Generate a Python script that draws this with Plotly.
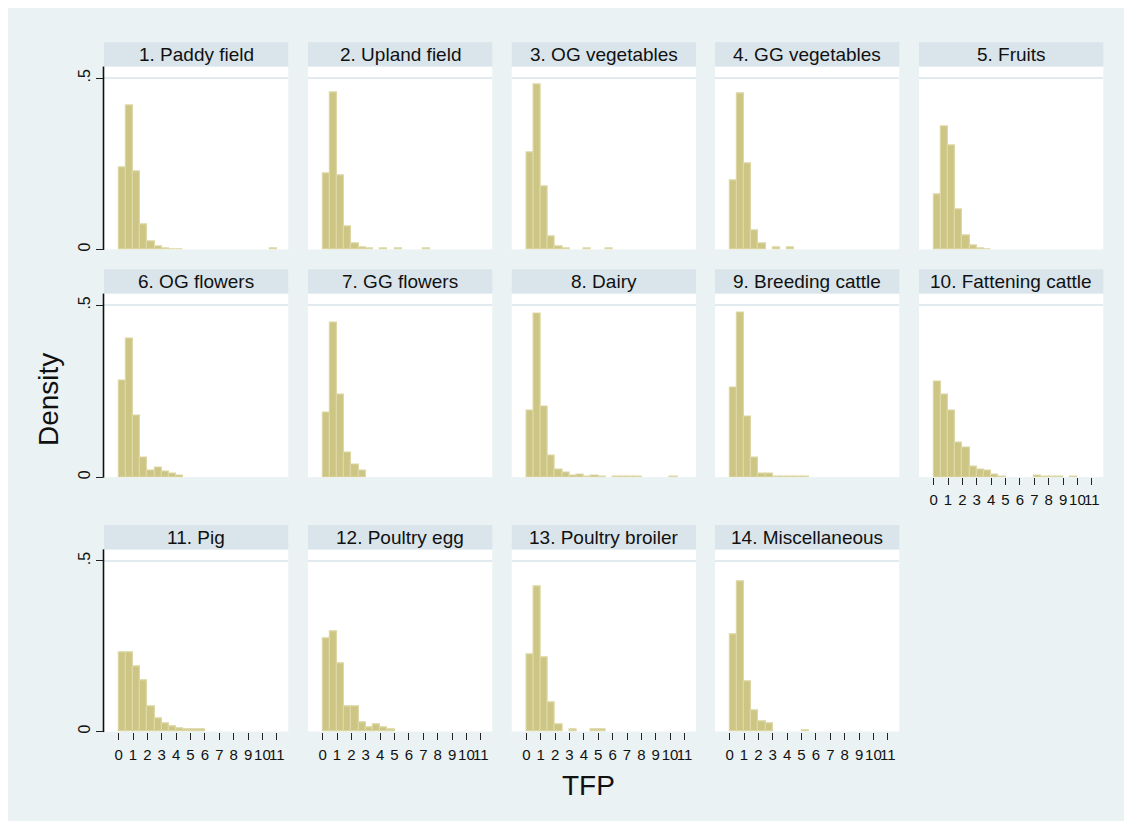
import plotly.graph_objects as go

# ---------------- data ----------------
panel_titles = ["1. Paddy field", "2. Upland field", "3. OG vegetables", "4. GG vegetables", "5. Fruits",
                "6. OG flowers", "7. GG flowers", "8. Dairy", "9. Breeding cattle", "10. Fattening cattle",
                "11. Pig", "12. Poultry egg", "13. Poultry broiler", "14. Miscellaneous"]

# histogram bin centres (bin width 0.5)
bin_centers = [0.25, 0.75, 1.25, 1.75, 2.25, 2.75, 3.25, 3.75, 4.25, 4.75, 5.25,
               5.75, 6.25, 6.75, 7.25, 7.75, 8.25, 8.75, 9.25, 9.75, 10.25, 10.75]

paddy = [0.240, 0.419, 0.227, 0.072, 0.024, 0.009, 0.003, 0.001, 0.001, 0, 0, 0, 0, 0, 0, 0, 0, 0, 0, 0, 0, 0.002]
upland = [0.223, 0.459, 0.215, 0.066, 0.017, 0.005, 0.002, 0, 0.002, 0, 0.002, 0, 0, 0, 0.002, 0, 0, 0, 0, 0, 0, 0]
og_veg = [0.282, 0.480, 0.183, 0.038, 0.007, 0.003, 0, 0, 0.002, 0, 0, 0.002, 0, 0, 0, 0, 0, 0, 0, 0, 0, 0]
gg_veg = [0.200, 0.456, 0.252, 0.054, 0.017, 0, 0.006, 0, 0.006, 0, 0, 0, 0, 0, 0, 0, 0, 0, 0, 0, 0, 0]
fruits = [0.160, 0.358, 0.303, 0.116, 0.041, 0.012, 0.003, 0.001, 0, 0, 0, 0, 0, 0, 0, 0, 0, 0, 0, 0, 0, 0]
og_flowers = [0.281, 0.403, 0.180, 0.058, 0.020, 0.027, 0.015, 0.010, 0.004, 0, 0, 0, 0, 0, 0, 0, 0, 0, 0, 0, 0, 0]
gg_flowers = [0.187, 0.450, 0.240, 0.071, 0.036, 0.019, 0, 0, 0, 0, 0, 0, 0, 0, 0, 0, 0, 0, 0, 0, 0, 0]
dairy = [0.193, 0.477, 0.205, 0.063, 0.021, 0.013, 0.005, 0.008, 0.002, 0.004, 0.002, 0, 0.002, 0.002, 0.002, 0.002, 0, 0, 0, 0, 0.002, 0]
breeding = [0.260, 0.479, 0.176, 0.056, 0.010, 0.010, 0.002, 0.002, 0.002, 0.002, 0.002, 0, 0, 0, 0, 0, 0, 0, 0, 0, 0, 0]
fattening = [0.278, 0.240, 0.195, 0.101, 0.085, 0.032, 0.022, 0.020, 0.007, 0.002, 0, 0, 0, 0, 0.004, 0.0015, 0.0015, 0.0015, 0, 0.002, 0, 0]
pig = [0.231, 0.233, 0.192, 0.149, 0.073, 0.038, 0.023, 0.015, 0.010, 0.007, 0.007, 0.007, 0, 0, 0, 0, 0, 0, 0, 0, 0, 0]
egg = [0.272, 0.294, 0.199, 0.073, 0.073, 0.027, 0.012, 0.021, 0.013, 0.007, 0, 0, 0, 0, 0, 0, 0, 0, 0, 0, 0, 0]
broiler = [0.225, 0.426, 0.216, 0.085, 0.021, 0, 0.007, 0, 0, 0.007, 0.007, 0, 0, 0, 0, 0, 0, 0, 0, 0, 0, 0]
misc = [0.286, 0.440, 0.146, 0.062, 0.030, 0.023, 0, 0, 0, 0, 0.004, 0, 0, 0, 0, 0, 0, 0, 0, 0, 0, 0]

series = [paddy, upland, og_veg, gg_veg, fruits, og_flowers, gg_flowers, dairy,
          breeding, fattening, pig, egg, broiler, misc]

x_tick_vals = [0, 1, 2, 3, 4, 5, 6, 7, 8, 9, 10, 11]
y_tick_vals = [0, 0.5]
y_tick_text = ["0", ".5"]

# ---------------- layout geometry (pixels, page coordinates) ----------------
W, H = 1132, 827
OFF = 8  # page body margin in front of the figure
FONT = "Liberation Sans, Arial, sans-serif"
BG = "#eaf2f3"
STRIP = "#d9e5eb"
BAR_FILL = "#ccc584"
BAR_LINE = "#dcd7a4"
GRID = "#e1eaee"

col_left = [104, 308, 511.7, 715, 919]
col_w = 184.3
rows = [(66.7, 250.0), (294.3, 478.3), (550.7, 733.3)]
strip_h = 24.4


def fx(p):
    return (p - OFF) / W


def fy(p):
    return 1 - (p - OFF) / H


fig = go.Figure()
layout = dict(
    width=W, height=H, margin=dict(l=0, r=0, t=0, b=0),
    paper_bgcolor=BG, plot_bgcolor="white", showlegend=False,
    bargap=0, font=dict(family=FONT, color="#111111"),
)
shapes = [
    # white outer border (right and bottom) of the graph region
    dict(type="rect", xref="paper", yref="paper", x0=fx(1128), x1=1.0, y0=0, y1=1,
         fillcolor="white", line=dict(width=0), layer="above"),
    dict(type="rect", xref="paper", yref="paper", x0=0, x1=1.0, y0=0, y1=fy(823),
         fillcolor="white", line=dict(width=0), layer="above"),
]
annotations = []

for i, (title, vals) in enumerate(zip(panel_titles, series)):
    r, c = divmod(i, 5)
    top, bot = rows[r]
    left = col_left[c]
    n = "" if i == 0 else str(i + 1)
    xa, ya = "xaxis" + n, "yaxis" + n
    xs = [b for b, v in zip(bin_centers, vals) if v > 0]
    ys = [v for v in vals if v > 0]
    fig.add_trace(go.Bar(x=xs, y=ys, width=0.5, xaxis="x" + n, yaxis="y" + n,
                         marker=dict(color=BAR_FILL, line=dict(color=BAR_LINE, width=1.2)),
                         hoverinfo="x+y"))
    bottom_of_col = (r == 2) or (r == 1 and c == 4)
    layout[xa] = dict(domain=[fx(left), fx(left + col_w)], anchor="y" + n, range=[-1.02, 11.8],
                      tickvals=x_tick_vals, showticklabels=bottom_of_col,
                      ticks="outside" if bottom_of_col else "", ticklen=7, tickwidth=1, tickcolor="#222",
                      tickangle=0, tickfont=dict(size=15, family=FONT, color="#111"),
                      ticklabelstandoff=2,
                      showgrid=False, zeroline=False, showline=False, fixedrange=True)
    layout[ya] = dict(domain=[fy(bot), fy(top)], anchor="x" + n, range=[0, 0.534],
                      tickvals=y_tick_vals, ticktext=y_tick_text, showticklabels=(c == 0),
                      ticks="outside" if c == 0 else "", ticklen=7, tickwidth=1, tickcolor="#222",
                      tickangle=-90, tickfont=dict(size=16, family=FONT, color="#111"),
                      showgrid=True, gridcolor=GRID, gridwidth=1.5, zeroline=False,
                      showline=False, fixedrange=True)
    if c == 0:
        # y axis line along the left edge of the first-column panels
        shapes.append(dict(type="line", xref="paper", yref="paper",
                           x0=fx(left - 0.5), x1=fx(left - 0.5), y0=fy(bot + 0.5), y1=fy(top),
                           line=dict(color="#111111", width=1.6), layer="above"))
    # strip
    shapes.append(dict(type="rect", xref="paper", yref="paper",
                       x0=fx(left), x1=fx(left + col_w), y0=fy(top), y1=fy(top - strip_h),
                       fillcolor=STRIP, line=dict(width=0), layer="below"))
    annotations.append(dict(text=title, xref="paper", yref="paper", x=fx(left + col_w / 2),
                            y=fy(top - strip_h / 2), showarrow=False, xanchor="center", yanchor="middle",
                            font=dict(size=19, family=FONT, color="#111")))

annotations.append(dict(text="Density", xref="paper", yref="paper", x=fx(48), y=fy(401), textangle=-90,
                        showarrow=False, xanchor="center", yanchor="middle",
                        font=dict(size=28, family=FONT, color="#111")))
annotations.append(dict(text="TFP", xref="paper", yref="paper", x=fx(588), y=fy(787),
                        showarrow=False, xanchor="center", yanchor="middle",
                        font=dict(size=28, family=FONT, color="#111")))

layout["shapes"] = shapes
layout["annotations"] = annotations
fig.update_layout(**layout)
fig.write_html("out.html")
